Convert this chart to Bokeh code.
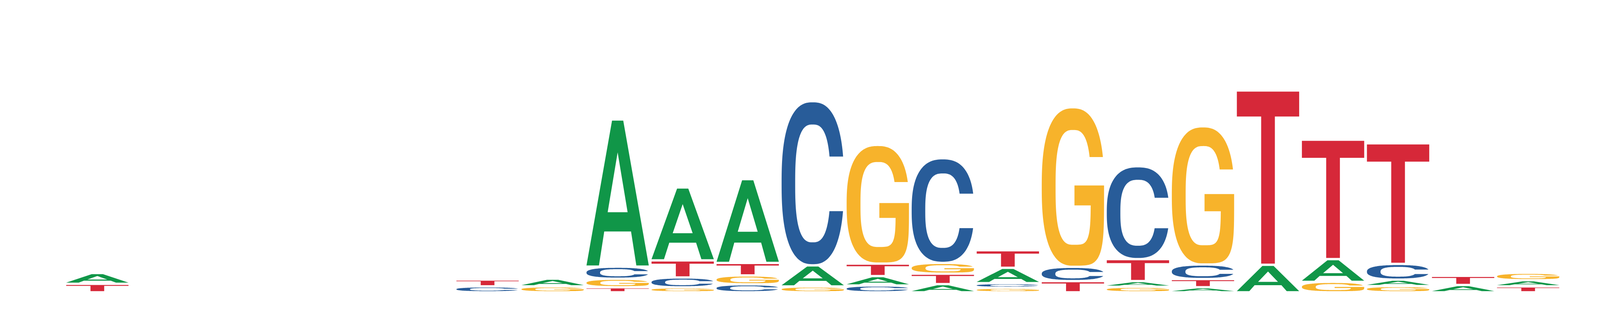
import numpy as np
from bokeh.plotting import figure
from bokeh.models import ColumnDataSource, Range1d
from bokeh.embed import file_html
from bokeh.resources import INLINE

# letter heights (bits) per motif position
positions = list(range(23))
A_H = [0.059, 0, 0, 0, 0, 0, 0, 0.037, 0.997, 0.486, 0.560, 0.129, 0.048,
       0.040, 0.089, 0, 0.023, 0.019, 0.173, 0.140, 0.028, 0.034, 0.026]
C_H = [0, 0, 0, 0, 0, 0, 0.025, 0, 0.067, 0.052, 0.039, 1.114, 0.031,
       0.704, 0.016, 0.082, 0.623, 0.084, 0, 0, 0.092, 0, 0]
G_H = [0, 0, 0, 0, 0, 0, 0, 0.025, 0.042, 0.018, 0.045, 0.024, 0.801,
       0.058, 0.015, 1.082, 0.022, 0.935, 0, 0.056, 0.027, 0, 0.035]
T_H = [0.042, 0, 0, 0, 0, 0, 0.031, 0, 0.019, 0.101, 0.070, 0, 0.070,
       0.056, 0.105, 0.061, 0.135, 0.040, 1.184, 0.806, 0.814, 0.047, 0.025]

COLORS = {"A": "#109648", "C": "#285C99", "G": "#F7B32B", "T": "#D62839"}
GLYPH_W = 0.958   # glyph width as share of a column
GAP = 0.0161      # white space between stacked letters (bits)

# page geometry: the browser only shows about 4100px across
VIEW_W = 4100
FIG_W, FIG_H = VIEW_W - 16, 798
k = VIEW_W / 4600.0
col0 = 288 * k - 8          # frame px of first column centre
step = 186.8 * k            # frame px per column
x_lo = -col0 / step
x_hi = x_lo + FIG_W / step
PX_PER_BIT = 372.0
y_hi = 744.7 / PX_PER_BIT
y_lo = -(FIG_H - 744.7) / PX_PER_BIT


def se(t, cx, cy, ax, ay, n):
    c, s = np.cos(t), np.sin(t)
    return (cx + ax * np.sign(c) * np.abs(c) ** (2 / n),
            cy + ay * np.sign(s) * np.abs(s) ** (2 / n))


def t_at(y, cy, ay, n):
    s = (y - cy) / ay
    return np.sign(s) * np.arcsin(np.abs(s) ** (n / 2))


def shape_A():
    outer = np.array([(0, 0), (0.41, 1), (0.59, 1), (1, 0), (0.80, 0),
                      (0.715, 0.235), (0.285, 0.235), (0.20, 0)])
    hole = np.array([(0.34, 0.368), (0.5, 0.781), (0.66, 0.368)])
    return [[outer[:, 0], outer[:, 1]], [hole[:, 0], hole[:, 1]]]


def shape_T():
    pts = np.array([(0, 1), (1, 1), (1, 0.855), (0.61, 0.855), (0.61, 0),
                    (0.39, 0), (0.39, 0.855), (0, 0.855)])
    return [[pts[:, 0], pts[:, 1]]]


def shape_C():
    no, ni = 2.5, 2.7
    tu_o, tl_o = t_at(0.665, 0.5, 0.5, no), t_at(0.328, 0.5, 0.5, no)
    tu_i, tl_i = t_at(0.665, 0.499, 0.364, ni), t_at(0.328, 0.499, 0.364, ni)
    xo, yo = se(np.linspace(tu_o, 2 * np.pi + tl_o, 180), 0.5, 0.5, 0.5, 0.5, no)
    xi, yi = se(np.linspace(2 * np.pi + tl_i, tu_i, 160), 0.5, 0.499, 0.282, 0.364, ni)
    return [[np.concatenate([xo, xi]), np.concatenate([yo, yi])]]


def shape_G():
    no, ni, nsq = 2.5, 2.8, 4.5
    cxi, cyi, axi, ayi = 0.504, 0.498, 0.282, 0.365
    tu_o = t_at(0.691, 0.5, 0.5, no)
    x1, y1 = se(np.linspace(tu_o, 1.5 * np.pi, 140), 0.5, 0.5, 0.5, 0.5, no)
    x2, y2 = se(np.linspace(1.5 * np.pi, 2 * np.pi, 50), 0.5, 0.5, 0.5, 0.5, nsq)
    bx = np.array([1.0, 0.525, 0.525])
    by = np.array([0.51, 0.51, 0.383])
    t0 = t_at(0.383, cyi, ayi, nsq)
    x3, y3 = se(np.linspace(2 * np.pi + t0, 1.5 * np.pi, 40), cxi, cyi, axi, ayi, nsq)
    tu_i = t_at(0.691, cyi, ayi, ni)
    x4, y4 = se(np.linspace(1.5 * np.pi, tu_i, 140), cxi, cyi, axi, ayi, ni)
    return [[np.concatenate([x1, x2, bx, x3, x4]),
             np.concatenate([y1, y2, by, y3, y4])]]


SHAPES = {"A": shape_A(), "C": shape_C(), "G": shape_G(), "T": shape_T()}

xs, ys, cols = [], [], []
for i in positions:
    heights = {"A": A_H[i], "C": C_H[i], "G": G_H[i], "T": T_H[i]}
    y0 = 0.0
    for letter, h in sorted(heights.items(), key=lambda kv: kv[1]):
        if h <= 0:
            continue
        rings_x, rings_y = [], []
        for ux, uy in SHAPES[letter]:
            rings_x.append(list(i - GLYPH_W / 2 + ux * GLYPH_W))
            rings_y.append(list(y0 + uy * h))
        xs.append([rings_x])
        ys.append([rings_y])
        cols.append(COLORS[letter])
        y0 += h + GAP

src = ColumnDataSource(data=dict(xs=xs, ys=ys, color=cols))

p = figure(width=FIG_W, height=FIG_H, output_backend="svg", toolbar_location=None,
           x_range=Range1d(x_lo, x_hi), y_range=Range1d(y_lo, y_hi),
           x_axis_location=None, y_axis_location=None, min_border=0)
p.grid.visible = False
p.outline_line_color = None
p.background_fill_color = "white"
p.multi_polygons(xs="xs", ys="ys", fill_color="color", line_color=None, source=src)

open("out.html", "w").write(file_html(p, INLINE))
